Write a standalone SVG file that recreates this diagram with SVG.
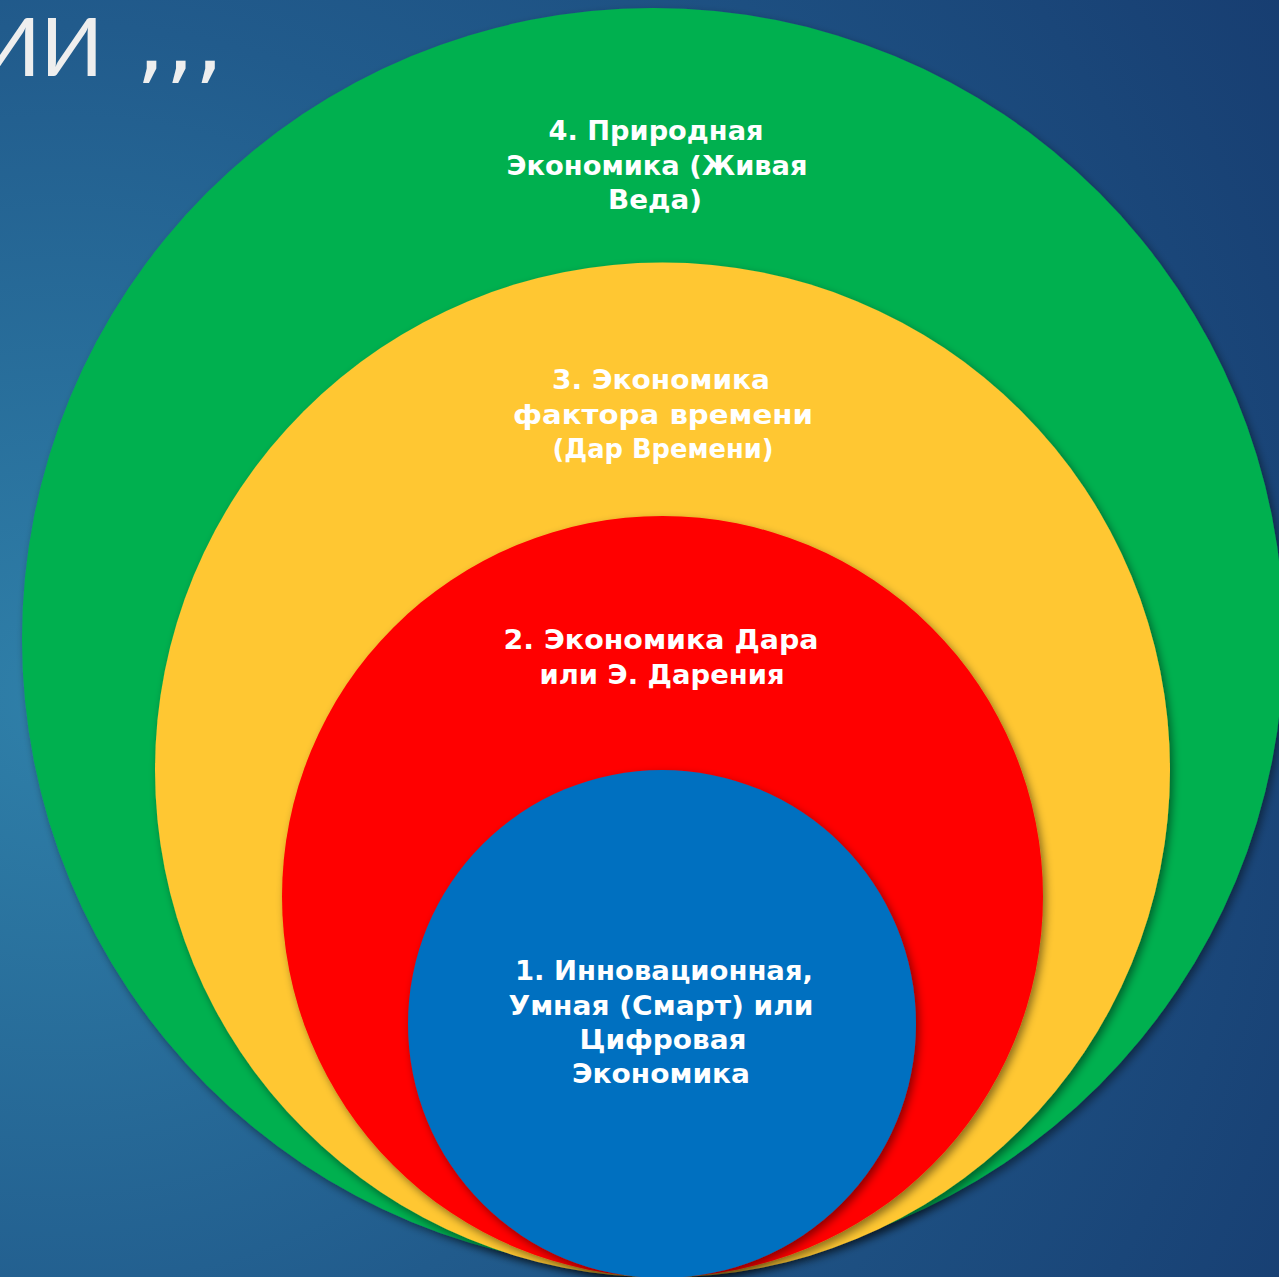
<svg xmlns="http://www.w3.org/2000/svg" width="1279" height="1277" viewBox="0 0 1279 1277">
<defs>
<radialGradient id="bg" gradientUnits="userSpaceOnUse" cx="60" cy="700" r="1500">
<stop offset="0" stop-color="#2F80A9"/>
<stop offset="0.45" stop-color="#215B8C"/>
<stop offset="1" stop-color="#163A6E"/>
</radialGradient>
<filter id="sh" x="-10%" y="-10%" width="120%" height="120%">
<feDropShadow dx="3" dy="4" stdDeviation="4" flood-color="#000" flood-opacity="0.45"/>
</filter>
<style>
.lbl{font-family:"DejaVu Sans","Liberation Sans",sans-serif;font-weight:bold;font-size:26px;fill:#FFFFFF;text-anchor:middle}
.title{font-family:"Lato","Open Sans","DejaVu Sans",sans-serif;font-weight:400;font-size:82px;fill:#EEEEEE}
.commas{font-family:"DejaVu Sans",sans-serif;font-size:92px}
</style>
</defs>
<rect width="1279" height="1277" fill="url(#bg)"/>
<text class="title" x="-22" y="76">ИИ<tspan class="commas" x="136" y="72">,,,</tspan></text>
<g id="n4">
<circle cx="653" cy="639" r="631" fill="#00B050" filter="url(#sh)"/>
<text class="lbl"><tspan x="656" y="140" textLength="215" lengthAdjust="spacingAndGlyphs">4. Природная</tspan><tspan x="657" y="175" textLength="301" lengthAdjust="spacingAndGlyphs">Экономика (Живая</tspan><tspan x="655" y="209" textLength="94" lengthAdjust="spacingAndGlyphs">Веда)</tspan></text>
</g>
<g id="n3">
<circle cx="662.5" cy="770" r="507.5" fill="#FFC732" filter="url(#sh)"/>
<text class="lbl"><tspan x="661" y="389" textLength="218" lengthAdjust="spacingAndGlyphs">3. Экономика</tspan><tspan x="663" y="424" textLength="300" lengthAdjust="spacingAndGlyphs">фактора времени</tspan><tspan x="663" y="458" textLength="221" lengthAdjust="spacingAndGlyphs">(Дар Времени)</tspan></text>
</g>
<g id="n2">
<circle cx="662.5" cy="896.5" r="380.5" fill="#FF0000" filter="url(#sh)"/>
<text class="lbl"><tspan x="661" y="649" textLength="315" lengthAdjust="spacingAndGlyphs">2. Экономика Дара</tspan><tspan x="662" y="684" textLength="245" lengthAdjust="spacingAndGlyphs">или Э. Дарения</tspan></text>
</g>
<g id="n1">
<circle cx="662" cy="1024" r="254" fill="#0070C0" filter="url(#sh)"/>
<text class="lbl"><tspan x="664" y="980" textLength="298" lengthAdjust="spacingAndGlyphs">1. Инновационная,</tspan><tspan x="661" y="1015" textLength="305" lengthAdjust="spacingAndGlyphs">Умная (Смарт) или</tspan><tspan x="663" y="1049" textLength="167" lengthAdjust="spacingAndGlyphs">Цифровая</tspan><tspan x="661" y="1083" textLength="178" lengthAdjust="spacingAndGlyphs">Экономика</tspan></text>
</g>
<g id="connectors"/>
</svg>
